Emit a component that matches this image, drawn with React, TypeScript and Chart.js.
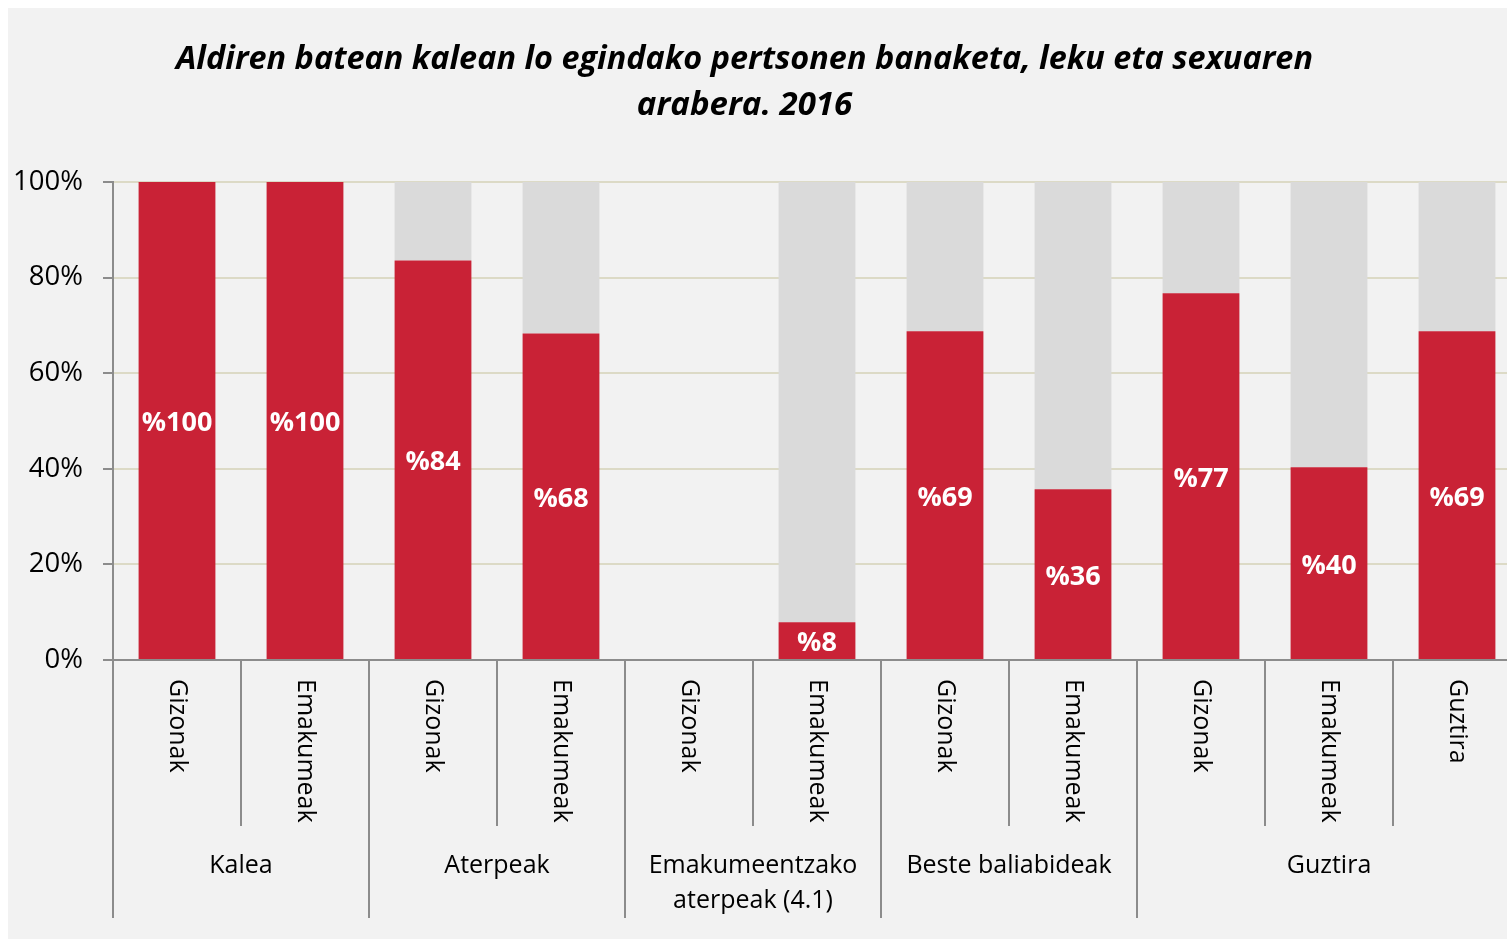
import React, { useEffect, useRef } from "react";
import { Chart, registerables } from "chart.js";

Chart.register(...registerables);

const titleLines = [
  "Aldiren batean kalean lo egindako pertsonen banaketa, leku eta sexuaren",
  "arabera. 2016",
];
const categories = [
  "Gizonak", "Emakumeak",
  "Gizonak", "Emakumeak",
  "Gizonak", "Emakumeak",
  "Gizonak", "Emakumeak",
  "Gizonak", "Emakumeak", "Guztira",
];
const groupNames = [["Kalea"], ["Aterpeak"], ["Emakumeentzako", "aterpeak (4.1)"], ["Beste baliabideak"], ["Guztira"]];
const groupSizes = [2, 2, 2, 2, 3];
const redValues = [100, 100, 83.6, 68.3, 0, 7.9, 68.8, 35.7, 76.7, 40.3, 68.8];
const grayValues = [0, 0, 16.4, 31.7, 0, 92.1, 31.2, 64.3, 23.3, 59.7, 31.2];
const yTicks = [0, 20, 40, 60, 80, 100];

const FONT = "'Open Sans', 'Noto Sans', sans-serif";
const AXIS_GRAY = "#8c8c8c";

export default function App() {
  const ref = useRef<HTMLCanvasElement | null>(null);

  useEffect(() => {
    if (!ref.current) return;

    const overlay = {
      id: "overlay",
      afterDraw(chart: any) {
        const ctx = chart.ctx;
        const xs = chart.scales.x;
        const area = chart.chartArea;
        ctx.save();
        // Title
        ctx.fillStyle = "#000";
        ctx.textAlign = "center";
        ctx.textBaseline = "middle";
        ctx.font = `italic bold 33px ${FONT}`;
        ctx.fillText(titleLines[0], 736.5, 52, 1137);
        ctx.fillText(titleLines[1], 736.5, 98, 1137);

        // Data labels
        const meta = chart.getDatasetMeta(0);
        ctx.font = `bold 27px ${FONT}`;
        ctx.fillStyle = "#ffffff";
        meta.data.forEach((el: any, i: number) => {
          const v = redValues[i];
          if (!v) return;
          const cy = (el.y + el.base) / 2;
          ctx.fillText("%" + Math.round(v), el.x, cy + 3);
        });

        // Separators
        const step = xs.getPixelForValue(1) - xs.getPixelForValue(0);
        const boundaries = new Set<number>();
        let acc = 0;
        boundaries.add(0);
        groupSizes.forEach((s) => { acc += s; boundaries.add(acc); });
        ctx.strokeStyle = AXIS_GRAY;
        ctx.lineWidth = 2;
        for (let i = 0; i <= categories.length; i++) {
          const x = Math.round(xs.getPixelForValue(i) - step / 2);
          const len = boundaries.has(i) ? 258 : 166;
          ctx.beginPath();
          ctx.moveTo(x, area.bottom);
          ctx.lineTo(x, area.bottom + len);
          ctx.stroke();
        }

        // Category labels (rotated clockwise)
        ctx.fillStyle = "#000";
        ctx.font = `25px ${FONT}`;
        ctx.textAlign = "left";
        ctx.textBaseline = "middle";
        categories.forEach((c, i) => {
          const x = xs.getPixelForValue(i);
          ctx.save();
          ctx.translate(x, area.bottom + 19);
          ctx.rotate(Math.PI / 2);
          ctx.fillText(c, 0, 0);
          ctx.restore();
        });

        // Group labels
        ctx.textAlign = "center";
        ctx.font = `25px ${FONT}`;
        let start = 0;
        groupSizes.forEach((s, g) => {
          const x0 = xs.getPixelForValue(start) - step / 2;
          const x1 = xs.getPixelForValue(start + s - 1) + step / 2;
          const cx = g === groupSizes.length - 1
            ? xs.getPixelForValue(start + 1)
            : (x0 + x1) / 2;
          groupNames[g].forEach((line, li) => {
            ctx.fillText(line, cx, area.bottom + 206 + li * 35);
          });
          start += s;
        });
        ctx.restore();
      },
    };

    const chart = new Chart(ref.current, {
      type: "bar",
      data: {
        labels: categories,
        datasets: [
          {
            label: "red",
            data: redValues,
            backgroundColor: "#c92236",
            barPercentage: 0.6,
            categoryPercentage: 1,
          },
          {
            label: "gray",
            data: grayValues,
            backgroundColor: "#dadada",
            barPercentage: 0.6,
            categoryPercentage: 1,
          },
        ],
      },
      options: {
        animation: false,
        responsive: false,
        maintainAspectRatio: false,
        layout: { padding: { top: 174, left: 0, right: 0, bottom: 0 } },
        plugins: {
          legend: { display: false },
          title: { display: false },
          tooltip: { enabled: false },
        },
        scales: {
          x: {
            stacked: true,
            ticks: { display: false },
            grid: { display: false, drawTicks: false },
            border: { display: true, color: AXIS_GRAY, width: 2 },
            afterFit(scale: any) {
              scale.height = 279;
            },
          },
          y: {
            stacked: true,
            min: 0,
            max: 100,
            afterBuildTicks(scale: any) {
              scale.ticks = yTicks.map((v) => ({ value: v }));
            },
            ticks: {
              callback: (v: any) => v + "%",
              color: "#000",
              font: { family: FONT, size: 27.5 },
              padding: 20,
            },
            grid: {
              color: (c: any) => (c.tick && c.tick.value === 0 ? AXIS_GRAY : "#dcdac6"),
              lineWidth: 2,
              tickLength: 10,
              tickColor: AXIS_GRAY,
            },
            border: { display: true, color: AXIS_GRAY, width: 2 },
            afterFit(scale: any) {
              scale.width = 105;
            },
          },
        },
      },
      plugins: [overlay],
    });
    return () => chart.destroy();
  }, []);

  return (
    <div
      style={{
        position: "fixed",
        left: 8,
        top: 8,
        width: 1499,
        height: 931,
        overflow: "hidden",
        background: "#f2f2f2",
      }}
    >
      <canvas ref={ref} width={1513} height={931} style={{ display: "block" }} />
    </div>
  );
}
